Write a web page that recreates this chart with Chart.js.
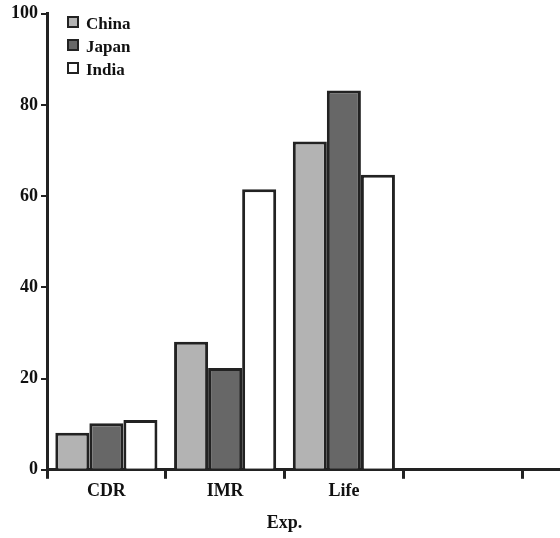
<!DOCTYPE html>
<html>
<head>
<meta charset="utf-8">
<script src="https://cdn.jsdelivr.net/npm/chart.js@4/dist/chart.umd.min.js"></script>
<style>
  body { margin: 0; background: #fff; }
  #wrap { position: relative; width: 560px; height: 538px; }
  #legend { position: absolute; left: 67px; top: 12px; font: bold 17px "Liberation Serif", "Times New Roman", serif; color: #111; }
  #legend div { height: 23px; line-height: 23px; white-space: nowrap; }
  #legend span { display: inline-block; width: 8px; height: 8px; border: 2px solid #222; margin-right: 7px; vertical-align: 1px; }
</style>
</head>
<body>
<div id="wrap">
  <canvas id="chart" width="560" height="538"></canvas>
  <div id="legend"></div>
</div>
<script>
// data
var categories = ['CDR', 'IMR', 'Life', ''];
var seriesNames = ['China', 'Japan', 'India'];
var china = [8.1, 28.1, 72.0];
var japan = [10.2, 22.3, 83.2];
var india = [10.9, 61.5, 64.7];
var seriesColors = ['#b3b3b3', '#676767', '#ffffff'];

var ink = '#222222';
var serif = '"Liberation Serif", "Times New Roman", serif';

// html legend in the top-left corner
var legendBox = document.getElementById('legend');
seriesNames.forEach(function (name, i) {
    var row = document.createElement('div');
    var sw = document.createElement('span');
    sw.style.background = seriesColors[i];
    row.appendChild(sw);
    row.appendChild(document.createTextNode(name));
    legendBox.appendChild(row);
});

// the x axis line runs on past the last tick to the edge
var axisTail = {
    id: 'axisTail',
    afterDraw: function (chart) {
        var c = chart.ctx, sx = chart.scales.x;
        var y = Math.floor(sx.top) + 0.5;
        c.save();
        c.strokeStyle = ink;
        c.lineWidth = 3;
        c.beginPath();
        c.moveTo(sx.right - 1, y);
        c.lineTo(chart.width, y);
        c.stroke();
        c.restore();
    }
};

var datasets = [china, japan, india].map(function (vals, i) {
    return {
        label: seriesNames[i],
        data: vals,
        backgroundColor: seriesColors[i],
        borderColor: ink,
        borderWidth: 3,
        borderSkipped: 'bottom'
    };
});

var tickFont = { family: serif, size: 18, weight: 'bold' };

new Chart(document.getElementById('chart').getContext('2d'), {
    type: 'bar',
    data: { labels: categories, datasets: datasets },
    options: {
        responsive: false,
        animation: false,
        categoryPercentage: 0.86,
        barPercentage: 1.0,
        layout: { padding: { top: 8, right: 38, left: 8, bottom: 0 } },
        plugins: {
            legend: { display: false },
            tooltip: { enabled: false }
        },
        scales: {
            x: {
                grid: { offset: true, drawOnChartArea: false, color: ink, lineWidth: 3, tickLength: 9 },
                border: { color: ink, width: 3 },
                ticks: { color: '#111', font: tickFont, padding: 2 },
                title: { display: true, text: 'Exp.', color: '#111', font: tickFont, padding: { top: 8 } }
            },
            y: {
                min: 0,
                max: 100,
                ticks: { stepSize: 20, color: '#111', font: tickFont, padding: 3 },
                grid: { drawOnChartArea: false, color: ink, lineWidth: 2, tickLength: 6 },
                border: { color: ink, width: 3 }
            }
        }
    },
    plugins: [axisTail]
});
</script>
</body>
</html>
